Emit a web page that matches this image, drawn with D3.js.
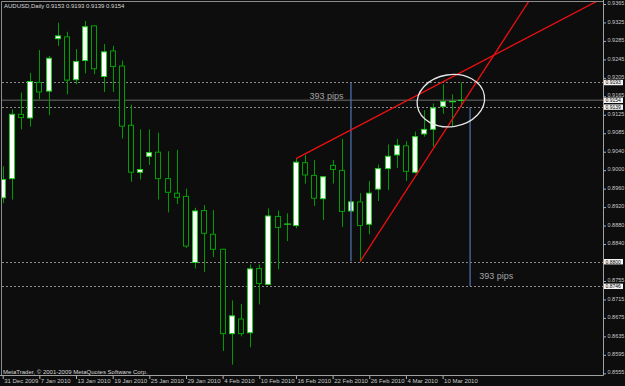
<!DOCTYPE html>
<html lang="en">

<head>
    <meta charset="UTF-8">
    <title>AUDUSD Daily</title>
    <script src="https://d3js.org/d3.v7.min.js"></script>
    <style>
        body,
        html {
            margin: 0;
            padding: 0;
            overflow: hidden;
            background: #0d0d0d;
        }

        svg {
            display: block;
        }
    </style>
</head>

<body>
    <script>
        // daily bars
        const dates = [
            "2009-12-31",
            "2010-01-04", "2010-01-05", "2010-01-06", "2010-01-07", "2010-01-08",
            "2010-01-11", "2010-01-12", "2010-01-13", "2010-01-14", "2010-01-15",
            "2010-01-18", "2010-01-19", "2010-01-20", "2010-01-21", "2010-01-22",
            "2010-01-25", "2010-01-26", "2010-01-27", "2010-01-28", "2010-01-29",
            "2010-02-01", "2010-02-02", "2010-02-03", "2010-02-04", "2010-02-05",
            "2010-02-08", "2010-02-09", "2010-02-10", "2010-02-11", "2010-02-12",
            "2010-02-15", "2010-02-16", "2010-02-17", "2010-02-18", "2010-02-19",
            "2010-02-22", "2010-02-23", "2010-02-24", "2010-02-25", "2010-02-26",
            "2010-03-01", "2010-03-02", "2010-03-03", "2010-03-04", "2010-03-05",
            "2010-03-08", "2010-03-09", "2010-03-10", "2010-03-11", "2010-03-12"
        ];
        const opens = [
            0.8940, 0.8982, 0.9123, 0.9115, 0.9193, 0.9174, 0.9289, 0.9293, 0.9199, 0.9241,
            0.9317, 0.9206, 0.9262, 0.9229, 0.9099, 0.8996, 0.9031, 0.9040, 0.8982, 0.8950,
            0.8943, 0.8798, 0.8912, 0.8860, 0.8827, 0.8642, 0.8674, 0.8644, 0.8785, 0.8750,
            0.8899, 0.8882, 0.8879, 0.9017, 0.8989, 0.8938, 0.9011, 0.9000, 0.8911, 0.8931,
            0.8882, 0.8959, 0.9004, 0.9034, 0.9054, 0.8996, 0.9080, 0.9090, 0.9140, 0.9150,
            0.9153
        ];
        const highs = [
            0.9009, 0.9134, 0.9171, 0.9214, 0.9264, 0.9251, 0.9324, 0.9304, 0.9266, 0.9328,
            0.9318, 0.9277, 0.9273, 0.9241, 0.9144, 0.9090, 0.9090, 0.9083, 0.9042, 0.9045,
            0.8960, 0.8918, 0.8924, 0.8913, 0.8828, 0.8715, 0.8707, 0.8794, 0.8794, 0.8917,
            0.8912, 0.8906, 0.9026, 0.9034, 0.9023, 0.8988, 0.9023, 0.9069, 0.8933, 0.8950,
            0.8977, 0.9013, 0.9057, 0.9069, 0.9064, 0.9085, 0.9132, 0.9147, 0.9189, 0.9167,
            0.9193
        ];
        const lows = [
            0.8928, 0.8936, 0.9090, 0.9096, 0.9156, 0.9121, 0.9273, 0.9167, 0.9189, 0.9213,
            0.9211, 0.9172, 0.9172, 0.9070, 0.8975, 0.8980, 0.9012, 0.8936, 0.8908, 0.8926,
            0.8830, 0.8785, 0.8777, 0.8810, 0.8604, 0.8574, 0.8636, 0.8612, 0.8706, 0.8748,
            0.8783, 0.8845, 0.8873, 0.8971, 0.8922, 0.8891, 0.8971, 0.8876, 0.8909, 0.8800,
            0.8860, 0.8933, 0.8957, 0.9005, 0.8977, 0.8993, 0.9074, 0.9052, 0.9124, 0.9097,
            0.9139
        ];
        const closes = [
            0.8980, 0.9123, 0.9116, 0.9195, 0.9172, 0.9246, 0.9295, 0.9198, 0.9239, 0.9315,
            0.9223, 0.9260, 0.9228, 0.9097, 0.8996, 0.9002, 0.9039, 0.8982, 0.8952, 0.8941,
            0.8834, 0.8911, 0.8862, 0.8827, 0.8642, 0.8681, 0.8642, 0.8784, 0.8752, 0.8900,
            0.8875, 0.8882, 0.9018, 0.8990, 0.8939, 0.8986, 0.9002, 0.8910, 0.8931, 0.8879,
            0.8950, 0.9004, 0.9031, 0.9055, 0.8998, 0.9074, 0.9090, 0.9137, 0.9151, 0.9152,
            0.9154
        ];

        // price scale: grid step and the labels printed on it
        const priceTop = 0.9365;
        const priceStep = 0.00405;
        const priceLabels = [
            "0.9365", "0.9325", "0.9285", "0.9245", "0.9205", "0.9165", "0.9125", "0.9085",
            "0.9040", "0.9000", "0.8960", "0.8920", "0.8880", "0.8840", "0.8800", "0.8755",
            "0.8715", "0.8675", "0.8635", "0.8595", "0.8555"
        ];

        // objects drawn on the chart
        const dottedLevels = [0.9193, 0.9139, 0.8800, 0.8746];
        const bidPrice = 0.9154;
        const markedPrices = [0.9193, 0.9154, 0.9139, 0.8800, 0.8746];
        const rulers = [
            { bar: 38, from: 0.9193, to: 0.8800 },
            { bar: 51, from: 0.9139, to: 0.8746 }
        ];
        const pipLabels = [
            { bar: 37.2, price: 0.9157, text: "393 pips", anchor: "end" },
            { bar: 52.0, price: 0.8762, text: "393 pips", anchor: "start" }
        ];
        const trendLines = [
            { b1: 32, p1: 0.9026, b2: 53.6, p2: 0.9253 },
            { b1: 39, p1: 0.8800, b2: 53.6, p2: 0.9253 }
        ];
        const circle = { bar: 48.9, price: 0.9153, barR: 3.7, priceR: 0.0057, tilt: -9 };

        const width = 625;
        const height = 386;
        const plotLeft = 2, plotTop = 2, plotRight = 603.5, plotBottom = 375.5;
        const font = "'Liberation Sans', Arial, sans-serif";

        const svg = d3.select("body")
            .append("svg")
            .attr("width", width)
            .attr("height", height)
            .style("background", "#0d0d0d");

        const x = d3.scaleLinear().domain([0, 48]).range([2.7, 442.6]);
        const y = d3.scaleLinear().domain([0.8555, 0.9365]).range([373.3, 4]);

        svg.append("defs").append("clipPath").attr("id", "plotClip")
            .append("rect")
            .attr("x", plotLeft).attr("y", plotTop)
            .attr("width", plotRight - plotLeft).attr("height", plotBottom - plotTop);

        const plot = svg.append("g").attr("clip-path", "url(#plotClip)");

        // horizontal levels
        plot.selectAll("line.level")
            .data(dottedLevels)
            .join("line")
            .attr("class", "level")
            .attr("x1", plotLeft).attr("x2", plotRight)
            .attr("y1", d => Math.round(y(d)) + 0.5)
            .attr("y2", d => Math.round(y(d)) + 0.5)
            .attr("stroke", "#8a8a8a")
            .attr("stroke-dasharray", "2,2");

        plot.append("line")
            .attr("x1", plotLeft).attr("x2", plotRight)
            .attr("y1", y(bidPrice)).attr("y2", y(bidPrice))
            .attr("stroke", "#4c4c4c")
            .attr("stroke-width", 1.4);

        // candles
        const candles = dates.map((d, i) => ({ i, o: opens[i], h: highs[i], l: lows[i], c: closes[i] }));
        const bodyW = 5;

        plot.selectAll("line.wick")
            .data(candles)
            .join("line")
            .attr("class", "wick")
            .attr("x1", d => Math.round(x(d.i)) + 0.5)
            .attr("x2", d => Math.round(x(d.i)) + 0.5)
            .attr("y1", d => y(d.h))
            .attr("y2", d => y(d.l))
            .attr("stroke", "#009a00");

        const bodies = candles.filter(d => Math.abs(y(d.o) - y(d.c)) >= 1.5);
        const dojis = candles.filter(d => Math.abs(y(d.o) - y(d.c)) < 1.5);

        plot.selectAll("rect.body")
            .data(bodies)
            .join("rect")
            .attr("class", "body")
            .attr("x", d => Math.round(x(d.i)) - bodyW / 2)
            .attr("y", d => y(Math.max(d.o, d.c)))
            .attr("width", bodyW)
            .attr("height", d => Math.abs(y(d.o) - y(d.c)))
            .attr("fill", d => d.c > d.o ? "#ffffff" : "#0d0d0d")
            .attr("stroke", d => d.c > d.o ? "#22d022" : "#00a000");

        plot.selectAll("line.doji")
            .data(dojis)
            .join("line")
            .attr("class", "doji")
            .attr("x1", d => Math.round(x(d.i)) - bodyW / 2 - 0.5)
            .attr("x2", d => Math.round(x(d.i)) + bodyW / 2 + 1.5)
            .attr("y1", d => y((d.o + d.c) / 2))
            .attr("y2", d => y((d.o + d.c) / 2))
            .attr("stroke", "#22d022")
            .attr("stroke-width", 1.3);

        // blue rulers
        plot.selectAll("line.ruler")
            .data(rulers)
            .join("line")
            .attr("class", "ruler")
            .attr("x1", d => x(d.bar)).attr("x2", d => x(d.bar))
            .attr("y1", d => y(d.from)).attr("y2", d => y(d.to))
            .attr("stroke", "#4d6dac")
            .attr("stroke-width", 1.3);

        plot.selectAll("text.pips")
            .data(pipLabels)
            .join("text")
            .attr("class", "pips")
            .attr("x", d => x(d.bar))
            .attr("y", d => y(d.price))
            .attr("text-anchor", d => d.anchor)
            .attr("font-family", font)
            .attr("font-size", 9)
            .attr("fill", "#a2a2a2")
            .text(d => d.text);

        // red trend rays
        plot.selectAll("line.trend")
            .data(trendLines)
            .join("line")
            .attr("class", "trend")
            .attr("x1", d => x(d.b1)).attr("y1", d => y(d.p1))
            .attr("x2", d => x(d.b1 + (d.b2 - d.b1) * 4))
            .attr("y2", d => y(d.p1 + (d.p2 - d.p1) * 4))
            .attr("stroke", "#ec1010")
            .attr("stroke-width", 1.3);

        // ellipse around the last bars
        const cx = x(circle.bar), cy = y(circle.price);
        plot.append("ellipse")
            .attr("cx", cx).attr("cy", cy)
            .attr("rx", x(circle.bar + circle.barR) - cx)
            .attr("ry", y(circle.price - circle.priceR) - cy)
            .attr("transform", `rotate(${circle.tilt},${cx},${cy})`)
            .attr("fill", "none")
            .attr("stroke", "#e6e6e6")
            .attr("stroke-width", 1.3);

        // frame
        svg.append("path")
            .attr("d", `M${plotLeft - 0.5},${plotBottom} V${plotTop - 0.5} H${plotRight}`)
            .attr("fill", "none")
            .attr("stroke", "#8c8c8c");
        svg.append("path")
            .attr("d", `M0,${plotBottom} H${plotRight} V0`)
            .attr("fill", "none")
            .attr("stroke", "#a0a0a0");

        // right price axis (a label covered by a price mark is skipped)
        const tickValues = priceLabels.map((d, k) => priceTop - k * priceStep);
        const labelOf = new Map(tickValues.map((v, k) => [v, priceLabels[k]]));
        const yAxis = svg.append("g")
            .attr("transform", `translate(${plotRight},0)`)
            .call(d3.axisRight(y).tickValues(tickValues).tickSize(2.5).tickPadding(1.5)
                .tickFormat(v => labelOf.get(v)));
        yAxis.select(".domain").remove();
        yAxis.selectAll("line").attr("stroke", "#b0b0b0");
        yAxis.selectAll("text")
            .attr("y", -1)
            .attr("dy", "0.3em")
            .attr("fill", "#c8c8c8")
            .attr("font-family", font)
            .attr("font-size", 5.5);
        yAxis.selectAll(".tick")
            .filter(v => markedPrices.some(m => Math.abs(y(m) - y(v)) < 3))
            .select("text").remove();

        // price marks on the scale
        const marks = svg.selectAll("g.mark")
            .data(markedPrices)
            .join("g")
            .attr("class", "mark")
            .attr("transform", d => `translate(${plotRight + 0.5},${y(d)})`);
        marks.append("rect")
            .attr("x", 0).attr("y", -2.6)
            .attr("width", 19).attr("height", 5.4)
            .attr("fill", "#f4f4f4");
        marks.append("text")
            .attr("x", 1.5).attr("dy", "0.4em")
            .attr("font-family", font)
            .attr("font-size", 5)
            .attr("fill", "#000")
            .text(d => d3.format(".4f")(d));

        // bottom date axis
        const parse = d3.timeParse("%Y-%m-%d");
        const fmt = d3.timeFormat("%-d %b %Y");
        const dateTicks = d3.range(0, dates.length, 4);
        const xAxis = svg.append("g")
            .attr("transform", `translate(0,${plotBottom})`)
            .call(d3.axisBottom(x).tickValues(dateTicks).tickSize(3.5).tickPadding(0)
                .tickFormat(i => fmt(parse(dates[i]))));
        xAxis.select(".domain").remove();
        xAxis.selectAll("line").attr("stroke", "#b0b0b0");
        xAxis.selectAll("text")
            .attr("text-anchor", "start")
            .attr("x", 1)
            .attr("y", 3)
            .attr("fill", "#c8c8c8")
            .attr("font-family", font)
            .attr("font-size", 6);

        // title and copyright
        const last = candles[candles.length - 1];
        svg.append("text")
            .attr("x", 4).attr("y", 8)
            .attr("font-family", font)
            .attr("font-size", 6)
            .attr("fill", "#d8d8d8")
            .text(`AUDUSD,Daily  ${[last.o, last.h, last.l, last.c].map(d3.format(".4f")).join(" ")}`);

        svg.append("text")
            .attr("x", 3).attr("y", 373.5)
            .attr("font-family", font)
            .attr("font-size", 6)
            .attr("fill", "#d8d8d8")
            .text("MetaTrader, © 2001-2009 MetaQuotes Software Corp.");
    </script>
</body>

</html>
